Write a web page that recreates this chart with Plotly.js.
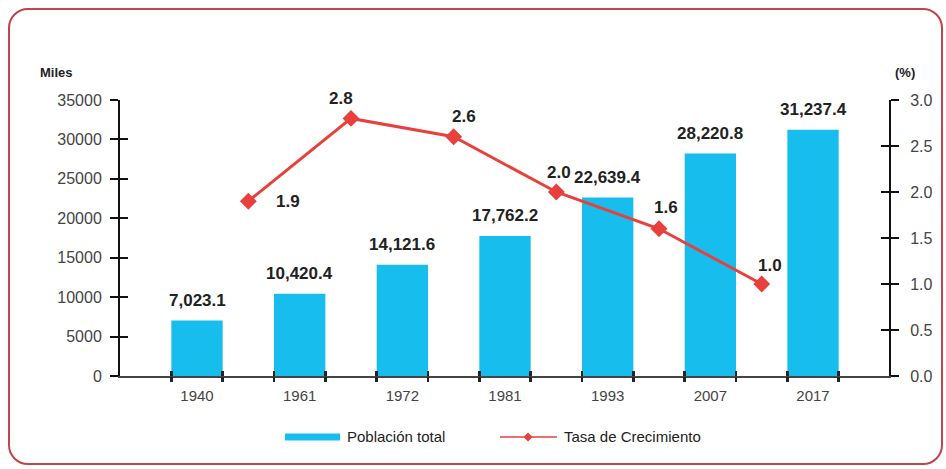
<!DOCTYPE html>
<html>
<head>
<meta charset="utf-8">
<script src="https://cdn.plot.ly/plotly-3.0.1.min.js"></script>
<style>
  html, body { margin: 0; padding: 0; background: #ffffff; }
  #wrap { position: relative; width: 946px; height: 469px; overflow: hidden; }
  #chart { position: absolute; left: 0; top: 0; width: 946px; height: 469px; }
  #frame { position: absolute; left: 8px; top: 8px; width: 935px; height: 457px;
           box-sizing: border-box; border: 2px solid #c0444c; border-radius: 20px;
           pointer-events: none; }
</style>
</head>
<body>
<div id="wrap">
  <div id="chart"></div>
  <div id="frame"></div>
</div>
<script>
// ---- data ----
const years = ['1940', '1961', '1972', '1981', '1993', '2007', '2017'];
const population = [7023.1, 10420.4, 14121.6, 17762.2, 22639.4, 28220.8, 31237.4];
const growthRate = [1.9, 2.8, 2.6, 2.0, 1.6, 1.0];
const seriesNames = ['Población total', 'Tasa de Crecimiento'];

// ---- derived ----
const barX = years.map((_, i) => i);
const rateX = growthRate.map((_, i) => i + 0.5); // intercensal periods
const barWidth = 0.5;
const edgeTicks = [];
barX.forEach(x => { edgeTicks.push(x - barWidth / 2, x + barWidth / 2); });
const fmt = v => v.toLocaleString('en-US', { minimumFractionDigits: 1, maximumFractionDigits: 1 });

const fontFam = '"Liberation Sans", Arial, sans-serif';
const barColor = '#17bdec';
const lineColor = '#e8403c';

const traces = [
  {
    type: 'bar', name: seriesNames[0], x: barX, y: population,
    width: barWidth, marker: { color: barColor },
    xaxis: 'x', yaxis: 'y', hoverinfo: 'skip', showlegend: false
  },
  {
    type: 'scatter', mode: 'lines+markers', name: seriesNames[1],
    x: rateX, y: growthRate, xaxis: 'x', yaxis: 'y2',
    line: { color: lineColor, width: 3 },
    marker: { symbol: 'diamond', size: 13, color: lineColor },
    hoverinfo: 'skip', showlegend: false
  },
  // empty helper traces so overlay tick axes are drawn
  { type: 'scatter', x: [], y: [], xaxis: 'x2', yaxis: 'y3', showlegend: false, hoverinfo: 'skip' },
  { type: 'scatter', x: [], y: [], xaxis: 'x3', yaxis: 'y4', showlegend: false, hoverinfo: 'skip' }
];

const labelFont = { family: fontFam, size: 17, color: '#222', weight: 'bold' };
const annotations = [];
population.forEach((v, i) => {
  annotations.push({
    x: barX[i], y: v, xref: 'x', yref: 'y', text: fmt(v), showarrow: false,
    yanchor: 'middle', yshift: 20, font: labelFont
  });
});
const rateShift = [[40, 0], [-10, 20], [10, 20], [3, 20], [7, 21], [8, 19]];
growthRate.forEach((v, i) => {
  annotations.push({
    x: rateX[i], y: v, xref: 'x', yref: 'y2', text: v.toFixed(1), showarrow: false,
    xshift: rateShift[i][0], yshift: rateShift[i][1], font: labelFont
  });
});
annotations.push({
  xref: 'paper', yref: 'paper', x: -0.083, y: 1.098, xanchor: 'center', yanchor: 'middle',
  text: 'Miles', showarrow: false,
  font: { family: fontFam, size: 13, color: '#222', weight: 'bold' }
});
annotations.push({
  xref: 'paper', yref: 'paper', x: 1.021, y: 1.098, xanchor: 'center', yanchor: 'middle',
  text: '(%)', showarrow: false,
  font: { family: fontFam, size: 13, color: '#222', weight: 'bold' }
});

// ---- hand-drawn legend (wide swatches like the original) ----
const legY = -0.221;
const legFont = { family: fontFam, size: 15, color: '#222' };
annotations.push({
  xref: 'paper', yref: 'paper', x: 0.2926, y: legY, xanchor: 'left', yanchor: 'middle',
  text: seriesNames[0], showarrow: false, font: legFont
});
annotations.push({
  xref: 'paper', yref: 'paper', x: 0.5748, y: legY, xanchor: 'left', yanchor: 'middle',
  text: seriesNames[1], showarrow: false, font: legFont
});
const shapes = [
  { type: 'rect', xref: 'paper', yref: 'paper', x0: 0.2146, x1: 0.2861,
    ysizemode: 'pixel', yanchor: legY, y0: -3.5, y1: 3.5,
    fillcolor: barColor, line: { width: 0 } },
  { type: 'line', xref: 'paper', yref: 'paper', x0: 0.4941, x1: 0.5683, y0: legY, y1: legY,
    line: { color: lineColor, width: 1.5 } },
  { type: 'path', xref: 'paper', yref: 'paper',
    xsizemode: 'pixel', xanchor: 0.5306, ysizemode: 'pixel', yanchor: legY,
    path: 'M0,-4.5 L4.5,0 L0,4.5 L-4.5,0 Z', fillcolor: lineColor, line: { width: 0 } }
];

const xRange = [-0.75, 6.74];
const tickFont = { family: fontFam, size: 16, color: '#444' };

const layout = {
  width: 946, height: 469,
  margin: { l: 120, r: 57, t: 100, b: 93 },
  paper_bgcolor: 'rgba(0,0,0,0)', plot_bgcolor: 'rgba(0,0,0,0)',
  showlegend: false,
  xaxis: {
    range: xRange, tickvals: barX, ticktext: years, ticks: '',
    showline: true, linecolor: '#444', linewidth: 1.5, showgrid: false, zeroline: false,
    tickfont: { family: fontFam, size: 15, color: '#444' }, ticklabelstandoff: 5
  },
  xaxis2: {
    overlaying: 'x', matches: 'x', range: xRange, tickvals: edgeTicks, ticktext: edgeTicks.map(() => ''),
    ticks: 'outside', ticklen: 5, tickwidth: 2.5, tickcolor: '#222',
    showline: false, showgrid: false, zeroline: false, showticklabels: false
  },
  xaxis3: {
    overlaying: 'x', matches: 'x', range: xRange, tickvals: edgeTicks, ticktext: edgeTicks.map(() => ''),
    ticks: 'inside', ticklen: 5, tickwidth: 2.5, tickcolor: '#222',
    showline: false, showgrid: false, zeroline: false, showticklabels: false
  },
  yaxis: {
    range: [0, 35000], dtick: 5000, tickformat: 'd', ticks: 'outside', ticklen: 8, tickwidth: 2,
    tickcolor: '#111', showline: true, linecolor: '#111', linewidth: 2,
    showgrid: false, zeroline: false, tickfont: tickFont, ticklabelstandoff: 5
  },
  yaxis2: {
    overlaying: 'y', side: 'right', range: [0, 3.0], dtick: 0.5, tickformat: '.1f',
    ticks: 'outside', ticklen: 8, tickwidth: 2, tickcolor: '#111',
    showline: true, linecolor: '#111', linewidth: 2,
    showgrid: false, zeroline: false, tickfont: tickFont, ticklabelstandoff: 8
  },
  yaxis3: {
    overlaying: 'y', side: 'left', range: [0, 35000], dtick: 5000, ticks: 'inside', ticklen: 8,
    tickwidth: 2, tickcolor: '#111', showline: false, showgrid: false, zeroline: false,
    showticklabels: false
  },
  yaxis4: {
    overlaying: 'y', side: 'right', range: [0, 3.0], dtick: 0.5, ticks: 'inside', ticklen: 8,
    tickwidth: 2, tickcolor: '#111', showline: false, showgrid: false, zeroline: false,
    showticklabels: false
  },
  annotations: annotations,
  shapes: shapes
};

Plotly.newPlot('chart', traces, layout, { displayModeBar: false, staticPlot: true });
</script>
</body>
</html>
